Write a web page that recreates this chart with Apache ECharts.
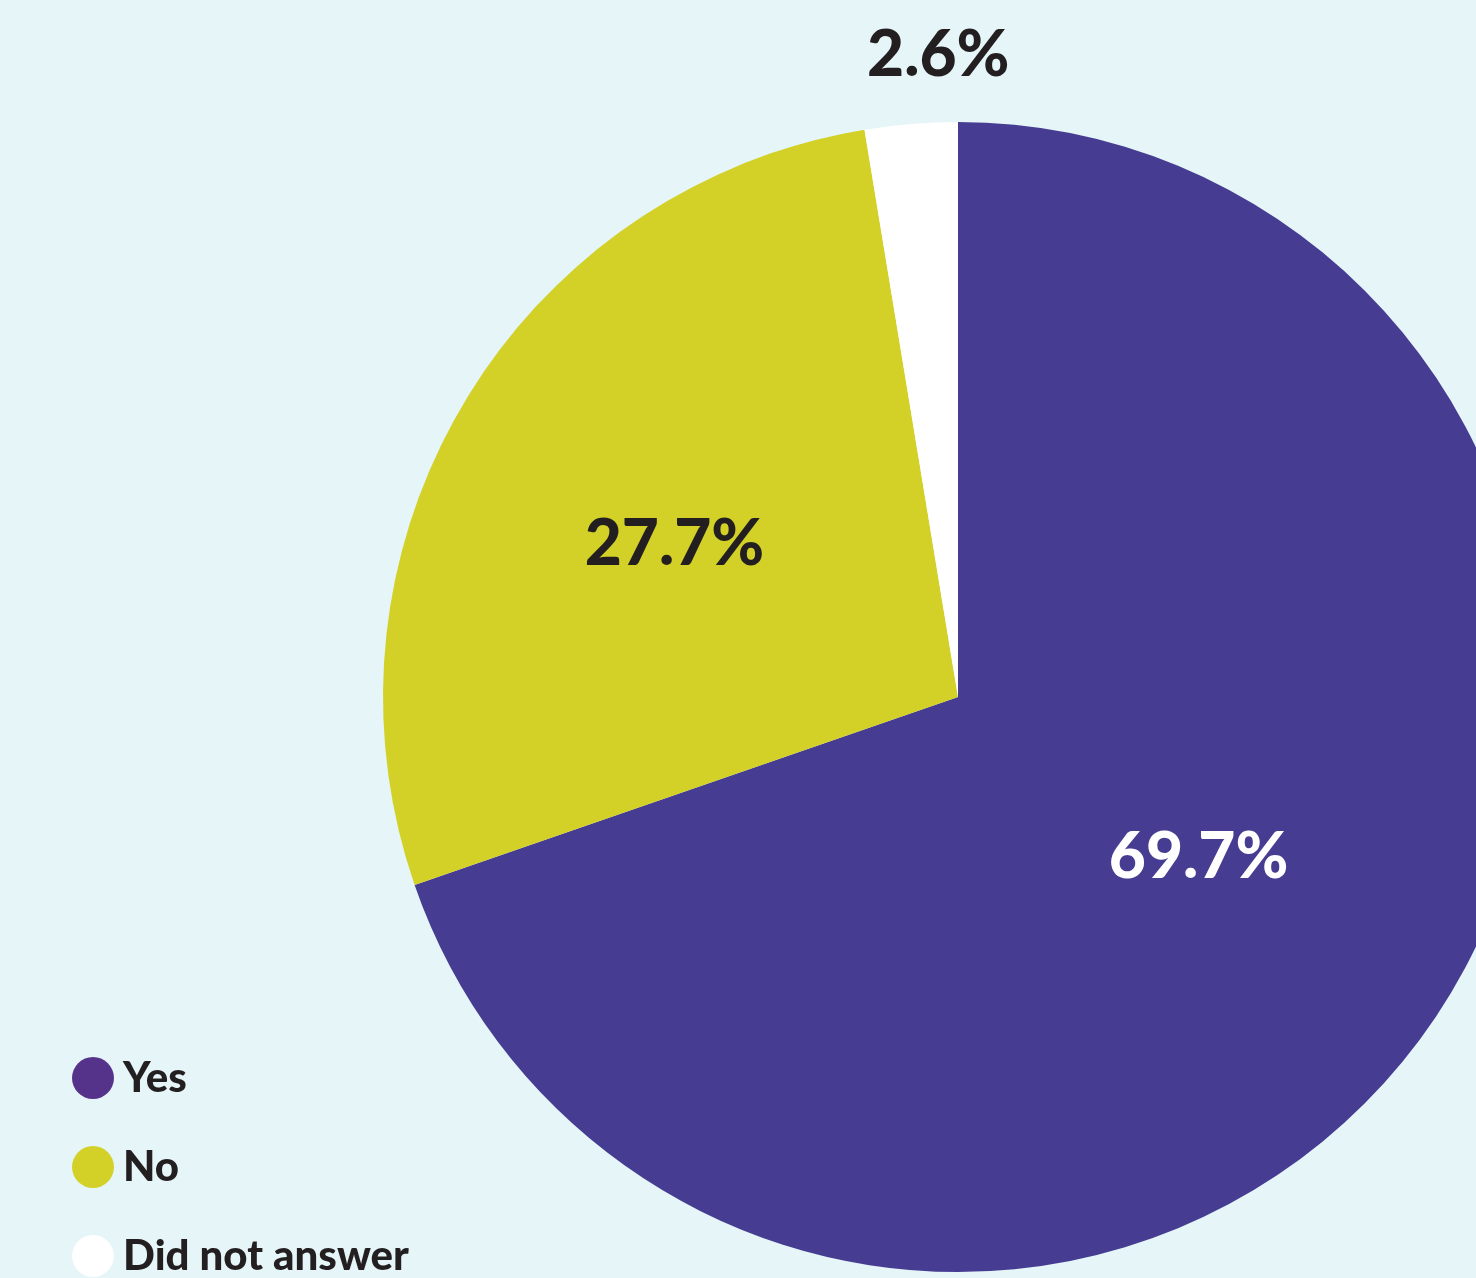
<!DOCTYPE html>
<html>
<head>
<meta charset="utf-8">
<script src="https://cdn.jsdelivr.net/npm/echarts@6/dist/echarts.min.js"></script>
<style>
  html, body { margin: 0; padding: 0; background: #E5F5F8; }
  #chart { width: 1476px; height: 1278px; }
</style>
</head>
<body>
<div id="chart"></div>
<script>
var categories = ['Yes', 'No', 'Did not answer'];
var values = [69.7, 27.7, 2.6];
var sliceColors = ['#463D92', '#D3D127', '#FFFFFF'];
var legendColors = ['#55338A', '#D3D127', '#FFFFFF'];
var labelColors = ['#FFFFFF', '#231F20', '#231F20'];

var chart = echarts.init(document.getElementById('chart'));

// per-slice label tweaks (the tiny slice gets its label pushed above the pie)
var labelOffsets = [[4, -8], [-34, -4], [4, -352]];

var pieData = categories.map(function (name, i) {
    return {
        name: name,
        value: values[i],
        itemStyle: { color: sliceColors[i] },
        label: { color: labelColors[i], offset: labelOffsets[i] }
    };
});

var option = {
    backgroundColor: '#E5F5F8',
    animation: false,
    legend: {
        orient: 'vertical',
        left: 72,
        top: 1057,
        height: 400,
        padding: 0,
        icon: 'circle',
        itemWidth: 42,
        itemHeight: 42,
        itemGap: 47,
        selectedMode: false,
        textStyle: {
            fontFamily: 'Lato',
            fontWeight: 900,
            fontSize: 42,
            color: '#231F20',
            padding: [0, 0, 0, 4]
        },
        data: categories.map(function (name, i) {
            return { name: name, itemStyle: { color: legendColors[i] } };
        })
    },
    series: [{
        type: 'pie',
        center: [958, 697],
        radius: [0, 575],
        startAngle: 90,
        clockwise: true,
        silent: true,
        label: {
            show: true,
            position: 'inside',
            formatter: function (p) { return p.value.toFixed(1) + '%'; },
            fontFamily: 'Lato',
            fontWeight: 900,
            fontSize: 64
        },
        labelLine: { show: false },
        data: pieData
    }]
};

chart.setOption(option);
</script>
</body>
</html>
